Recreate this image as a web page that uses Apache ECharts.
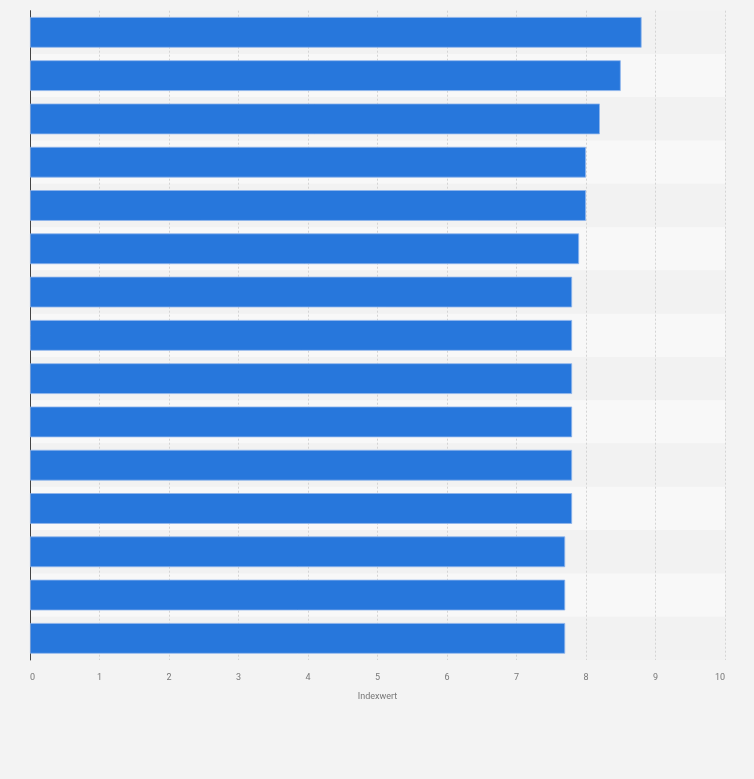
<!DOCTYPE html>
<html>
<head>
<meta charset="utf-8">
<script src="https://cdn.jsdelivr.net/npm/echarts@6/dist/echarts.min.js"></script>
<style>
  html, body { margin: 0; padding: 0; background: #f3f3f3; }
  #chart { width: 754px; height: 779px; }
</style>
</head>
<body>
<div id="chart"></div>
<script>
// categories are not labelled in the source picture, ranks only
var categories = ['1','2','3','4','5','6','7','8','9','10','11','12','13','14','15'];
var values = [8.8, 8.5, 8.2, 8.0, 8.0, 7.9, 7.8, 7.8, 7.8, 7.8, 7.8, 7.8, 7.7, 7.7, 7.7];
var xTicks = [0, 1, 2, 3, 4, 5, 6, 7, 8, 9, 10];
var axisName = 'Indexwert';

var myChart = echarts.init(document.getElementById('chart'));
var option = {
	backgroundColor: '#f3f3f3',
	animation: false,
	grid: { left: 30, right: 29, top: 10.7, bottom: 119, containLabel: false },
	xAxis: {
		type: 'value',
		min: xTicks[0],
		max: xTicks[xTicks.length - 1],
		interval: 1,
		name: axisName,
		nameLocation: 'middle',
		nameGap: 32,
		nameTextStyle: { color: '#777', fontSize: 9, fontFamily: 'Roboto' },
		axisLine: { show: false },
		axisTick: { show: false },
		axisLabel: {
			color: '#777', fontSize: 9, fontFamily: 'Roboto', margin: 13,
			alignMinLabel: 'left', alignMaxLabel: 'right'
		},
		splitLine: { show: true, lineStyle: { color: '#d4d4d4', type: [2, 2], width: 1 } }
	},
	yAxis: {
		type: 'category',
		data: categories,
		inverse: true,
		axisLine: { show: true, lineStyle: { color: '#444', width: 1 } },
		axisTick: { show: false },
		axisLabel: { show: false },
		splitLine: { show: false },
		splitArea: { show: true, areaStyle: { color: ['#f2f2f2', '#f8f8f8'] } }
	},
	series: [{
		type: 'bar',
		data: values,
		barCategoryGap: '29%',
		itemStyle: { color: '#2777dc', borderColor: '#8fb5ec', borderWidth: 0.8 }
	}]
};
myChart.setOption(option);
</script>
</body>
</html>
